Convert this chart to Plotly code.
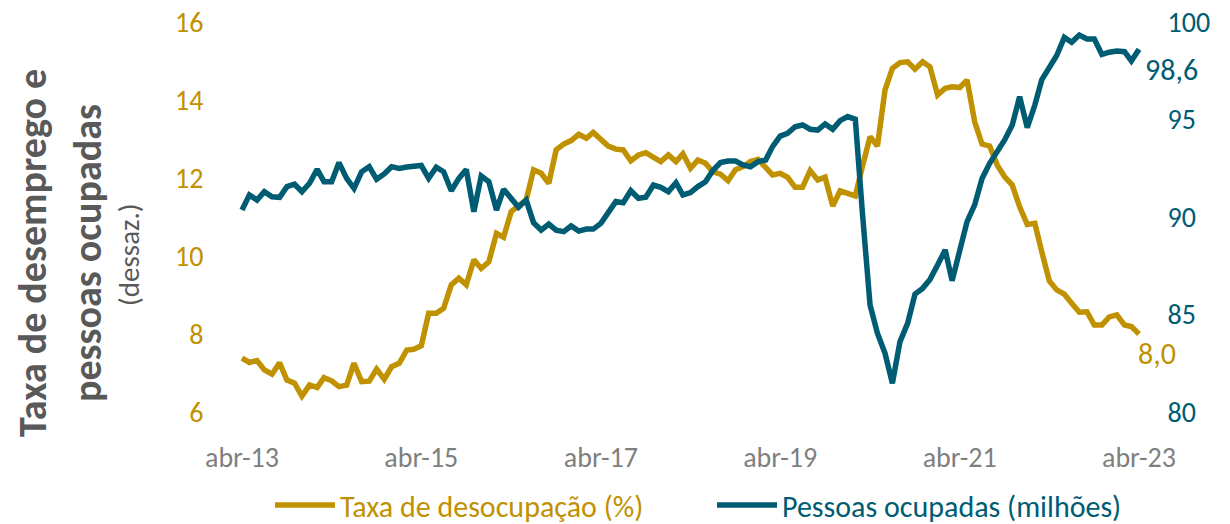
import pandas as pd
import plotly.graph_objects as go

# ---------------- data ----------------
start_month = "2013-04-01"
taxa_desocupacao = [
    7.38, 7.27, 7.32, 7.08, 6.97, 7.26, 6.82, 6.74, 6.41, 6.69,
    6.63, 6.88, 6.80, 6.65, 6.69, 7.25, 6.78, 6.79, 7.10, 6.84,
    7.16, 7.25, 7.59, 7.61, 7.70, 8.53, 8.53, 8.66, 9.26, 9.43,
    9.26, 9.90, 9.68, 9.85, 10.58, 10.48, 11.14, 11.31, 11.44, 12.21,
    12.12, 11.86, 12.72, 12.87, 12.96, 13.12, 13.02, 13.17, 12.99, 12.82,
    12.74, 12.72, 12.44, 12.59, 12.65, 12.53, 12.42, 12.59, 12.42, 12.62,
    12.25, 12.46, 12.38, 12.16, 12.10, 11.93, 12.21, 12.29, 12.42, 12.48,
    12.29, 12.08, 12.12, 12.02, 11.76, 11.76, 12.19, 11.95, 12.02, 11.28,
    11.67, 11.62, 11.54, 12.30, 13.06, 12.82, 14.26, 14.81, 14.96, 14.98,
    14.79, 14.98, 14.85, 14.13, 14.30, 14.34, 14.32, 14.51, 13.44, 12.87,
    12.82, 12.33, 12.03, 11.82, 11.26, 10.81, 10.84, 10.11, 9.36, 9.13,
    9.02, 8.79, 8.56, 8.57, 8.23, 8.23, 8.44, 8.49, 8.23, 8.19,
    8.00,
]
pessoas_ocupadas = [
    90.36, 91.13, 90.87, 91.30, 91.04, 91.01, 91.56, 91.68, 91.30, 91.73,
    92.44, 91.81, 91.81, 92.79, 91.98, 91.47, 92.32, 92.58, 91.93, 92.21,
    92.58, 92.49, 92.56, 92.60, 92.64, 91.98, 92.55, 92.32, 91.35, 91.98,
    92.44, 90.27, 92.10, 91.81, 90.36, 91.42, 90.96, 90.50, 90.87, 89.71,
    89.33, 89.64, 89.33, 89.25, 89.54, 89.28, 89.38, 89.38, 89.67, 90.27,
    90.79, 90.73, 91.35, 90.96, 91.01, 91.64, 91.52, 91.30, 91.76, 91.13,
    91.25, 91.56, 91.81, 92.38, 92.79, 92.87, 92.87, 92.67, 92.58, 92.84,
    92.92, 93.61, 94.15, 94.29, 94.63, 94.72, 94.50, 94.46, 94.77, 94.50,
    94.94, 95.15, 95.01, 90.20, 85.49, 84.04, 83.01, 81.47, 83.61, 84.55,
    86.05, 86.34, 86.80, 87.54, 88.31, 86.73, 88.27, 89.76, 90.62, 91.98,
    92.75, 93.35, 93.95, 94.72, 96.17, 94.58, 95.74, 97.03, 97.71, 98.28,
    99.21, 98.96, 99.33, 99.13, 99.13, 98.34, 98.45, 98.51, 98.48, 98.00,
    98.60,
]
tick_dates = ["2013-04-01", "2015-04-01", "2017-04-01", "2019-04-01", "2021-04-01", "2023-04-01"]
tick_labels = ["abr-13", "abr-15", "abr-17", "abr-19", "abr-21", "abr-23"]
left_ticks = [6, 8, 10, 12, 14, 16]
right_ticks = [80, 85, 90, 95, 100]
name_taxa = "Taxa de desocupação (%)"
name_pessoas = "Pessoas ocupadas (milhões)"
label_taxa = "8,0"
label_pessoas = "98,6"

# ---------------- style ----------------
GOLD = "#C09100"
TEAL = "#005C73"
GRAY = "#7F7F7F"
TITLE_GRAY = "#595959"
FONT = "Carlito, Calibri, Lato, sans-serif"
TICK_SIZE = 28
END_SIZE = 30

dates = pd.date_range(start_month, periods=len(taxa_desocupacao), freq="MS")

# page body margin is removed by post_script, so figure px == screen px
W, H = 1230, 524
L, R, T, B = 220, 1160, 22, 412
px_a, px_b = 242, 1139
d_a, d_b = pd.Timestamp(tick_dates[0]), pd.Timestamp(tick_dates[-1])
per_px = (d_b - d_a) / (px_b - px_a)
x_range = [d_a - per_px * (px_a - L), d_b + per_px * (R - px_b)]

def xp(sx):
    return (sx - L) / (R - L)

def yp(sy):
    return (B - sy) / (B - T)

fig = go.Figure()
fig.add_trace(go.Scatter(
    x=dates, y=taxa_desocupacao, mode="lines",
    name=f'<span style="color:{GOLD}">{name_taxa}</span>',
    line=dict(color=GOLD, width=5.5), yaxis="y", legend="legend"))
fig.add_trace(go.Scatter(
    x=dates, y=pessoas_ocupadas, mode="lines",
    name=f'<span style="color:{TEAL}">{name_pessoas}</span>',
    line=dict(color=TEAL, width=5.5), yaxis="y2", legend="legend2"))

annotations = [
    dict(text="Taxa de desemprego e", textangle=-90, xref="paper", yref="paper",
         x=xp(32), y=yp(253), xanchor="center", yanchor="middle", showarrow=False,
         font=dict(family=FONT, size=40, color=TITLE_GRAY, weight="bold")),
    dict(text="pessoas ocupadas", textangle=-90, xref="paper", yref="paper",
         x=xp(87), y=yp(253), xanchor="center", yanchor="middle", showarrow=False,
         font=dict(family=FONT, size=40, color=TITLE_GRAY, weight="bold")),
    dict(text="(dessaz.)", textangle=-90, xref="paper", yref="paper",
         x=xp(129), y=yp(255), xanchor="center", yanchor="middle", showarrow=False,
         font=dict(family=FONT, size=29, color=TITLE_GRAY)),
    dict(text=label_pessoas, x=dates[-1], y=pessoas_ocupadas[-1], xref="x", yref="y2",
         xanchor="left", yanchor="middle", xshift=4, yshift=-20, showarrow=False,
         font=dict(family=FONT, size=END_SIZE, color=TEAL)),
    dict(text=label_taxa, x=dates[-1], y=taxa_desocupacao[-1], xref="x", yref="y",
         xanchor="left", yanchor="middle", xshift=-3, yshift=-19, showarrow=False,
         font=dict(family=FONT, size=END_SIZE, color=GOLD)),
]

legend_common = dict(orientation="h", xanchor="left", yanchor="middle",
                     font=dict(family=FONT, size=30), itemwidth=60,
                     bgcolor="rgba(0,0,0,0)")

fig.update_layout(
    width=W, height=H,
    margin=dict(l=L, r=W - R, t=T, b=H - B, autoexpand=False),
    paper_bgcolor="white", plot_bgcolor="white",
    font=dict(family=FONT),
    showlegend=True,
    legend=dict(x=xp(270), y=yp(505), **legend_common),
    legend2=dict(x=xp(712), y=yp(505), **legend_common),
    xaxis=dict(type="date", range=x_range, tickvals=tick_dates, ticktext=tick_labels,
               showgrid=False, zeroline=False, showline=False, automargin=False,
               ticks="outside", ticklen=20, tickcolor="rgba(0,0,0,0)",
               ticklabeloverflow="allow",
               tickfont=dict(family=FONT, size=TICK_SIZE, color=GRAY)),
    yaxis=dict(range=[6, 16], tickvals=left_ticks, showgrid=False, zeroline=False,
               showline=False, automargin=False, ticklabeloverflow="allow",
               ticks="outside", ticklen=10, tickcolor="rgba(0,0,0,0)",
               tickfont=dict(family=FONT, size=TICK_SIZE, color=GOLD)),
    yaxis2=dict(range=[80, 100], tickvals=right_ticks, overlaying="y", side="right",
                showgrid=False, zeroline=False, showline=False, automargin=False,
                ticklabeloverflow="allow",
                ticks="outside", ticklen=1, tickcolor="rgba(0,0,0,0)",
                tickfont=dict(family=FONT, size=TICK_SIZE, color=TEAL)),
    annotations=annotations,
)

fig.write_html("out.html",
               config={"displayModeBar": False},
               post_script="document.body.style.margin='0px'; document.body.style.overflow='hidden';")
